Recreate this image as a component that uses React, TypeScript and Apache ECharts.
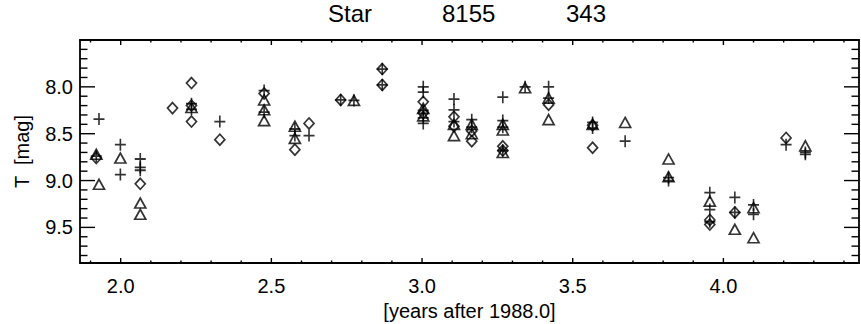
import React, { useEffect, useRef } from "react";
import * as echarts from "echarts";

// Observations: [years after 1988.0, T mag]
const diamondPoints: [number, number][] = [
  [1.919, 8.76], [2.065, 9.035], [2.172, 8.227], [2.235, 7.96], [2.235, 8.2], [2.235, 8.37],
  [2.329, 8.564], [2.476, 8.07], [2.578, 8.67], [2.625, 8.39], [2.73, 8.14], [2.868, 7.81],
  [2.868, 7.98], [3.004, 8.16], [3.004, 8.28], [3.106, 8.32], [3.106, 8.42], [3.165, 8.47],
  [3.165, 8.58], [3.268, 8.635], [3.268, 8.68], [3.42, 8.19], [3.566, 8.41], [3.566, 8.65],
  [3.955, 9.42], [3.955, 9.47], [4.038, 9.34], [4.208, 8.545],
];

const plusPoints: [number, number][] = [
  [1.928, 8.344], [1.919, 8.74], [1.999, 8.617], [1.999, 8.936], [2.065, 8.77], [2.065, 8.86],
  [2.065, 8.89], [2.235, 8.18], [2.235, 8.24], [2.329, 8.37], [2.476, 8.04], [2.476, 8.27],
  [2.578, 8.45], [2.578, 8.52], [2.625, 8.52], [2.73, 8.14], [2.774, 8.145], [2.868, 7.81],
  [2.868, 7.98], [3.004, 8.0], [3.004, 8.057], [3.004, 8.25], [3.004, 8.33], [3.004, 8.39],
  [3.106, 8.13], [3.106, 8.245], [3.106, 8.37], [3.165, 8.35], [3.165, 8.43], [3.268, 8.11],
  [3.268, 8.36], [3.268, 8.43], [3.268, 8.68], [3.342, 8.0], [3.42, 8.0], [3.42, 8.12],
  [3.566, 8.38], [3.566, 8.44], [3.674, 8.58], [3.818, 8.97], [3.818, 9.0], [3.955, 9.13],
  [3.955, 9.31], [3.955, 9.44], [4.038, 9.18], [4.038, 9.34], [4.1, 9.26], [4.1, 9.36],
  [4.208, 8.617], [4.272, 8.7], [4.272, 8.72],
];

const trianglePoints: [number, number][] = [
  [1.919, 8.72], [1.928, 9.04], [1.999, 8.76], [2.065, 9.24], [2.065, 9.36], [2.235, 8.22],
  [2.476, 8.14], [2.476, 8.245], [2.476, 8.36], [2.578, 8.42], [2.578, 8.55], [2.774, 8.145],
  [3.004, 8.23], [3.004, 8.31], [3.106, 8.4], [3.106, 8.52], [3.165, 8.4], [3.165, 8.5],
  [3.268, 8.4], [3.268, 8.46], [3.268, 8.7], [3.342, 8.01], [3.42, 8.12], [3.42, 8.35],
  [3.566, 8.4], [3.674, 8.38], [3.818, 8.77], [3.818, 8.96], [3.955, 9.22], [4.038, 9.52],
  [4.1, 9.29], [4.1, 9.61], [4.272, 8.63],
];

const xLabels = ["2.0", "2.5", "3.0", "3.5", "4.0"];
const yLabels = ["8.0", "8.5", "9.0", "9.5"];
const titleParts = ["Star", "8155", "343"];

// Tick values (major / minor) for the framed IDL-style axes
const xMajorTicks = [2.0, 2.5, 3.0, 3.5, 4.0];
const xMinorTicks = [1.9, 2.1, 2.2, 2.3, 2.4, 2.6, 2.7, 2.8, 2.9, 3.1, 3.2, 3.3, 3.4, 3.6, 3.7, 3.8, 3.9, 4.1, 4.2, 4.3, 4.4];
const yMajorTicks = [8.0, 8.5, 9.0, 9.5];
const yMinorTicks = [7.6, 7.7, 7.8, 7.9, 8.1, 8.2, 8.3, 8.4, 8.6, 8.7, 8.8, 8.9, 9.1, 9.2, 9.3, 9.4, 9.6, 9.7, 9.8];

const FONT = "Liberation Sans, Arial, sans-serif";

export default function App() {
  const ref = useRef<HTMLDivElement>(null);
  useEffect(() => {
    if (!ref.current) return;
    const chart = echarts.init(ref.current, null, { renderer: "svg" });
    const fmtX = (v: number) => {
      const s = v.toFixed(1);
      return xLabels.includes(s) && Math.abs(v - parseFloat(s)) < 1e-6 ? s : "";
    };
    const fmtY = (v: number) => {
      const s = v.toFixed(1);
      return yLabels.includes(s) && Math.abs(v - parseFloat(s)) < 1e-6 ? s : "";
    };
    const axisLine = { show: true, onZero: false, lineStyle: { color: "#000", width: 1.8 } };
    const markStyle = { color: "transparent", borderColor: "#000", borderWidth: 1.7 };

    const xTickData = [
      ...xMajorTicks.map((v) => [v, 8.5, 1]),
      ...xMinorTicks.map((v) => [v, 8.5, 0]),
    ];
    const yTickData = [
      ...yMajorTicks.map((v) => [3.0, v, 1]),
      ...yMinorTicks.map((v) => [3.0, v, 0]),
    ];

    const renderXTick = (params: any, api: any) => {
      const cs = params.coordSys;
      const px = api.coord([api.value(0), api.value(1)])[0];
      const len = api.value(2) === 1 ? 5 : 2.5;
      const bottom = cs.y + cs.height;
      return {
        type: "group",
        children: [
          { type: "line", shape: { x1: px, y1: bottom, x2: px, y2: bottom - len }, style: { stroke: "#000", lineWidth: 1.4 } },
          { type: "line", shape: { x1: px, y1: cs.y, x2: px, y2: cs.y + len }, style: { stroke: "#000", lineWidth: 1.4 } },
        ],
      };
    };
    const renderYTick = (params: any, api: any) => {
      const cs = params.coordSys;
      const py = api.coord([api.value(0), api.value(1)])[1];
      const len = api.value(2) === 1 ? 15 : 7.5;
      const right = cs.x + cs.width;
      return {
        type: "group",
        children: [
          { type: "line", shape: { x1: cs.x, y1: py, x2: cs.x + len, y2: py }, style: { stroke: "#000", lineWidth: 1.4 } },
          { type: "line", shape: { x1: right, y1: py, x2: right - len, y2: py }, style: { stroke: "#000", lineWidth: 1.4 } },
        ],
      };
    };

    const titleStyle = { fontFamily: FONT, fontSize: 24, fontWeight: "normal", color: "#000" };

    chart.setOption({
      animation: false,
      backgroundColor: "#fff",
      title: [
        { text: titleParts[0], left: 328, top: 1, padding: 0, textStyle: titleStyle },
        { text: titleParts[1], left: 442, top: 1, padding: 0, textStyle: titleStyle },
        { text: titleParts[2], left: 566, top: 1, padding: 0, textStyle: titleStyle },
      ],
      grid: { left: 80, right: 2, top: 40, bottom: 61, containLabel: false, outerBoundsMode: "none" },
      xAxis: [
        {
          type: "value",
          min: 1.865,
          max: 4.45,
          splitNumber: 5,
          position: "bottom",
          splitLine: { show: false },
          axisLine,
          axisTick: { show: false },
          name: "[years after 1988.0]",
          nameLocation: "middle",
          nameGap: 34,
          nameTextStyle: { fontFamily: FONT, fontSize: 20, color: "#000" },
          axisLabel: { show: true, formatter: fmtX, margin: 13, fontFamily: FONT, fontSize: 20, color: "#000", showMinLabel: false, showMaxLabel: false },
        },
        {
          type: "value",
          min: 1.865,
          max: 4.45,
          splitNumber: 5,
          position: "top",
          splitLine: { show: false },
          axisLine,
          axisTick: { show: false },
          axisLabel: { show: false },
        },
      ],
      yAxis: [
        {
          type: "value",
          inverse: true,
          min: 7.5,
          max: 9.88,
          interval: 0.5,
          position: "left",
          splitLine: { show: false },
          axisLine,
          axisTick: { show: false },
          name: "T  [mag]",
          nameLocation: "middle",
          nameGap: 48,
          nameRotate: 90,
          nameTextStyle: { fontFamily: FONT, fontSize: 20, color: "#000" },
          axisLabel: { show: true, formatter: fmtY, margin: 7, fontFamily: FONT, fontSize: 20, color: "#000", showMinLabel: false, showMaxLabel: false },
        },
        {
          type: "value",
          inverse: true,
          min: 7.5,
          max: 9.88,
          interval: 0.5,
          position: "right",
          splitLine: { show: false },
          axisLine,
          axisTick: { show: false },
          axisLabel: { show: false },
        },
      ],
      series: [
        { type: "custom", name: "xTicks", data: xTickData, renderItem: renderXTick, clip: false, silent: true },
        { type: "custom", name: "yTicks", data: yTickData, renderItem: renderYTick, clip: false, silent: true },
        {
          type: "scatter",
          name: "diamond",
          data: diamondPoints,
          symbol: "diamond",
          symbolSize: [10, 11],
          itemStyle: markStyle,
        },
        {
          type: "scatter",
          name: "plus",
          data: plusPoints,
          symbol: "path://M0,5L10,5M5,0L5,10",
          symbolSize: [11, 12],
          itemStyle: markStyle,
        },
        {
          type: "scatter",
          name: "triangle",
          data: trianglePoints,
          symbol: "triangle",
          symbolSize: [11, 10],
          itemStyle: markStyle,
        },
      ],
    });
    return () => chart.dispose();
  }, []);
  return <div ref={ref} style={{ width: 861, height: 324, position: "absolute", left: 0, top: 0 }} />;
}
